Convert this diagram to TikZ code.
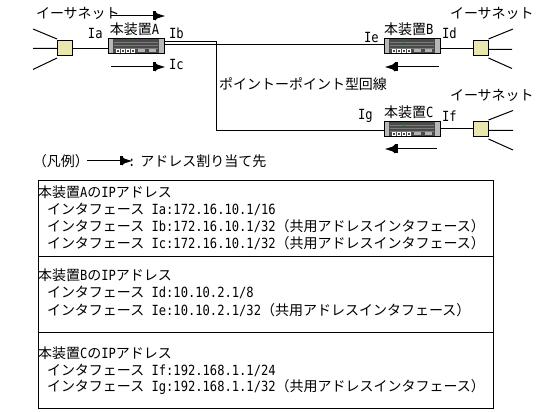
\documentclass[tikz,border=0pt]{standalone}
\usepackage{fontspec}
\setmainfont{Noto Sans CJK JP}
\newfontfamily\latinmono{DejaVu Sans Mono}[FakeStretch=0.866]
\newcommand{\hw}[1]{{\fontsize{14pt}{16pt}\latinmono #1}}
\usetikzlibrary{arrows.meta,positioning}
\definecolor{hubyellow}{HTML}{E8E8AE}
\definecolor{devdark}{HTML}{4A4A4A}
\definecolor{devcap}{HTML}{B8B8B8}
\definecolor{devline}{HTML}{7C7C7C}
\tikzset{
  every node/.style={inner sep=0pt,outer sep=0pt},
  txt/.style={anchor=west,font=\fontsize{14pt}{16pt}\selectfont,text=black},
  wire/.style={draw=black,line width=1pt},
  hub/.style={draw=black,fill=hubyellow,line width=1pt,minimum width=15pt,minimum height=15pt},
  dev/.style={draw=black,fill=devdark,line width=1pt,minimum width=56pt,minimum height=15pt},
  dir/.style={draw=black,line width=1pt,-{Rectangle[length=3pt,width=9pt,sep=-0.5pt]Triangle[length=5pt,width=9pt,sep=-2pt]Triangle[length=7pt,width=4pt]}},
  panel/.style={draw=black,line width=1pt,minimum width=455pt,anchor=north west},
}
\newcommand{\devdetail}[1]{%
  \fill[devcap] ([xshift=.5pt,yshift=-.5pt]#1.north west) rectangle ([xshift=5pt,yshift=.5pt]#1.south west);
  \fill[devcap] ([xshift=-5pt,yshift=-.5pt]#1.north east) rectangle ([xshift=-.5pt,yshift=.5pt]#1.south east);
  \foreach \yy in {3,6,9}{\draw[devline,line width=.7pt] ([xshift=6pt,yshift=-\yy pt]#1.north west) -- ([xshift=-6pt,yshift=-\yy pt]#1.north east);}
  \foreach \xx in {8,13,18,23}{\draw[white,fill=devdark,line width=.8pt] ([xshift=\xx pt,yshift=2pt]#1.south west) rectangle ++(3pt,3pt);}
  \fill[gray!60] ([xshift=30pt,yshift=2pt]#1.south west) rectangle ++(7pt,3pt);
  \fill[gray!60] ([xshift=41pt,yshift=2pt]#1.south west) rectangle ++(7pt,3pt);
  \fill[green!60!black] ([xshift=20pt,yshift=-3pt]#1.north west) circle (1pt);
}
\begin{document}
\begin{tikzpicture}[x=1pt,y=-1pt]
\useasboundingbox (0,0) rectangle (542,412);
\node[dev] (devA) at (136,46.5) {};
\node[dev] (devB) at (412,46.5) {};
\node[dev] (devC) at (412,129.5) {};
\devdetail{devA}\devdetail{devB}\devdetail{devC}
\node[hub] (hubA) at (64.5,48.5) {};
\node[hub] (hubB) at (481,48.5) {};
\node[hub] (hubC) at (481,129.5) {};
\coordinate (a1) at (33,29);\coordinate (a2) at (33,48.5);\coordinate (a3) at (33,69.5);
\coordinate (b1) at (513,29);\coordinate (b2) at (512,49.5);\coordinate (b3) at (512,68.5);
\coordinate (c1) at (513,110.5);\coordinate (c2) at (513,130.5);\coordinate (c3) at (513,150);
\draw[wire] (a1) -- ([yshift=2pt]hubA.north west) (a2) -- (hubA.west) (a3) -- ([yshift=-2pt]hubA.south west);
\draw[wire] (b1) -- ([yshift=2pt]hubB.north east) (b2) -- (b2 -| hubB.east) (b3) -- ([yshift=-2pt]hubB.south east);
\draw[wire] (c1) -- ([yshift=2pt]hubC.north east) (c2) -- (c2 -| hubC.east) (c3) -- ([yshift=-2pt]hubC.south east);
\draw[wire] (hubA.east) -- (hubA.east -| devA.west);
\draw[wire] (hubB.west) -- (hubB.west -| devB.east);
\draw[wire] ([yshift=1pt]hubC.west) -- ([yshift=1pt]hubC.west -| devC.east);
\draw[wire] ([yshift=2pt]devA.east) -- ([yshift=2pt]devA.east -| devB.west);
\coordinate (bend) at (216.5,130.5);
\draw[wire] ([yshift=5pt]devA.east) -| (bend) -- (bend -| devC.west);
\coordinate (d1s) at (111,16);\coordinate (d1e) at (165,16);
\coordinate (d2s) at (111,67);\coordinate (d2e) at (165,67);
\coordinate (d3s) at (439,67);\coordinate (d3e) at (385,67);
\coordinate (d4s) at (437,149);\coordinate (d4e) at (385,149);
\coordinate (d5s) at (87,161);\coordinate (d5e) at (132,161);
\draw[dir] (d1s) -- (d1e);
\draw[dir] (d2s) -- (d2e);
\draw[dir] (d3s) -- (d3e);
\draw[dir] (d4s) -- (d4e);
\draw[dir] (d5s) -- (d5e);
\node[txt] (eA) at (36,13) {イーサネット};
\node[txt] (eB) at (450,13) {イーサネット};
\node[txt] (eC) at (450,95) {イーサネット};
\node[txt] (nA) at (110,29) {本装置\hw{A}};
\node[txt] (nB) at (384,29) {本装置\hw{B}};
\node[txt] (nC) at (384,112) {本装置\hw{C}};
\node[txt] (ia) at (88,33) {\hw{Ia}};
\node[txt] (ib) at (169,33) {\hw{Ib}};
\node[txt] (ic) at (169,64) {\hw{Ic}};
\node[txt] (ie) at (364,37) {\hw{Ie}};
\node[txt] (id) at (442,33) {\hw{Id}};
\node[txt] (ig) at (358,116) {\hw{Ig}};
\node[txt] (if) at (442,116) {\hw{If}};
\node[txt] (pp) at (219,84) {ポイントーポイント型回線};
\node[txt] (lg) at (33,161) {（凡例）};
\node[txt] (lgt) at (128,161) {\hw{:}\hspace{5pt}アドレス割り当て先};
\node[panel,minimum height=76pt] (p1) at (38.5,181) {};
\node[panel,minimum height=75pt] (p2) at (38.5,257) {};
\node[panel,minimum height=76pt] (p3) at (38.5,332) {};
\node[txt] at (38,192) {本装置\hw{A}の\hw{IP}アドレス};
\node[txt] at (47,209) {インタフェース\hw{ Ia:172.16.10.1/16}};
\node[txt] at (47,226) {インタフェース\hw{ Ib:172.16.10.1/32}（共用アドレスインタフェース）};
\node[txt] at (47,243) {インタフェース\hw{ Ic:172.16.10.1/32}（共用アドレスインタフェース）};
\node[txt] at (38,275) {本装置\hw{B}の\hw{IP}アドレス};
\node[txt] at (47,292) {インタフェース\hw{ Id:10.10.2.1/8}};
\node[txt] at (47,310) {インタフェース\hw{ Ie:10.10.2.1/32}（共用アドレスインタフェース）};
\node[txt] at (38,353) {本装置\hw{C}の\hw{IP}アドレス};
\node[txt] at (47,370) {インタフェース\hw{ If:192.168.1.1/24}};
\node[txt] at (47,387) {インタフェース\hw{ Ig:192.168.1.1/32}（共用アドレスインタフェース）};
\end{tikzpicture}
\end{document}
